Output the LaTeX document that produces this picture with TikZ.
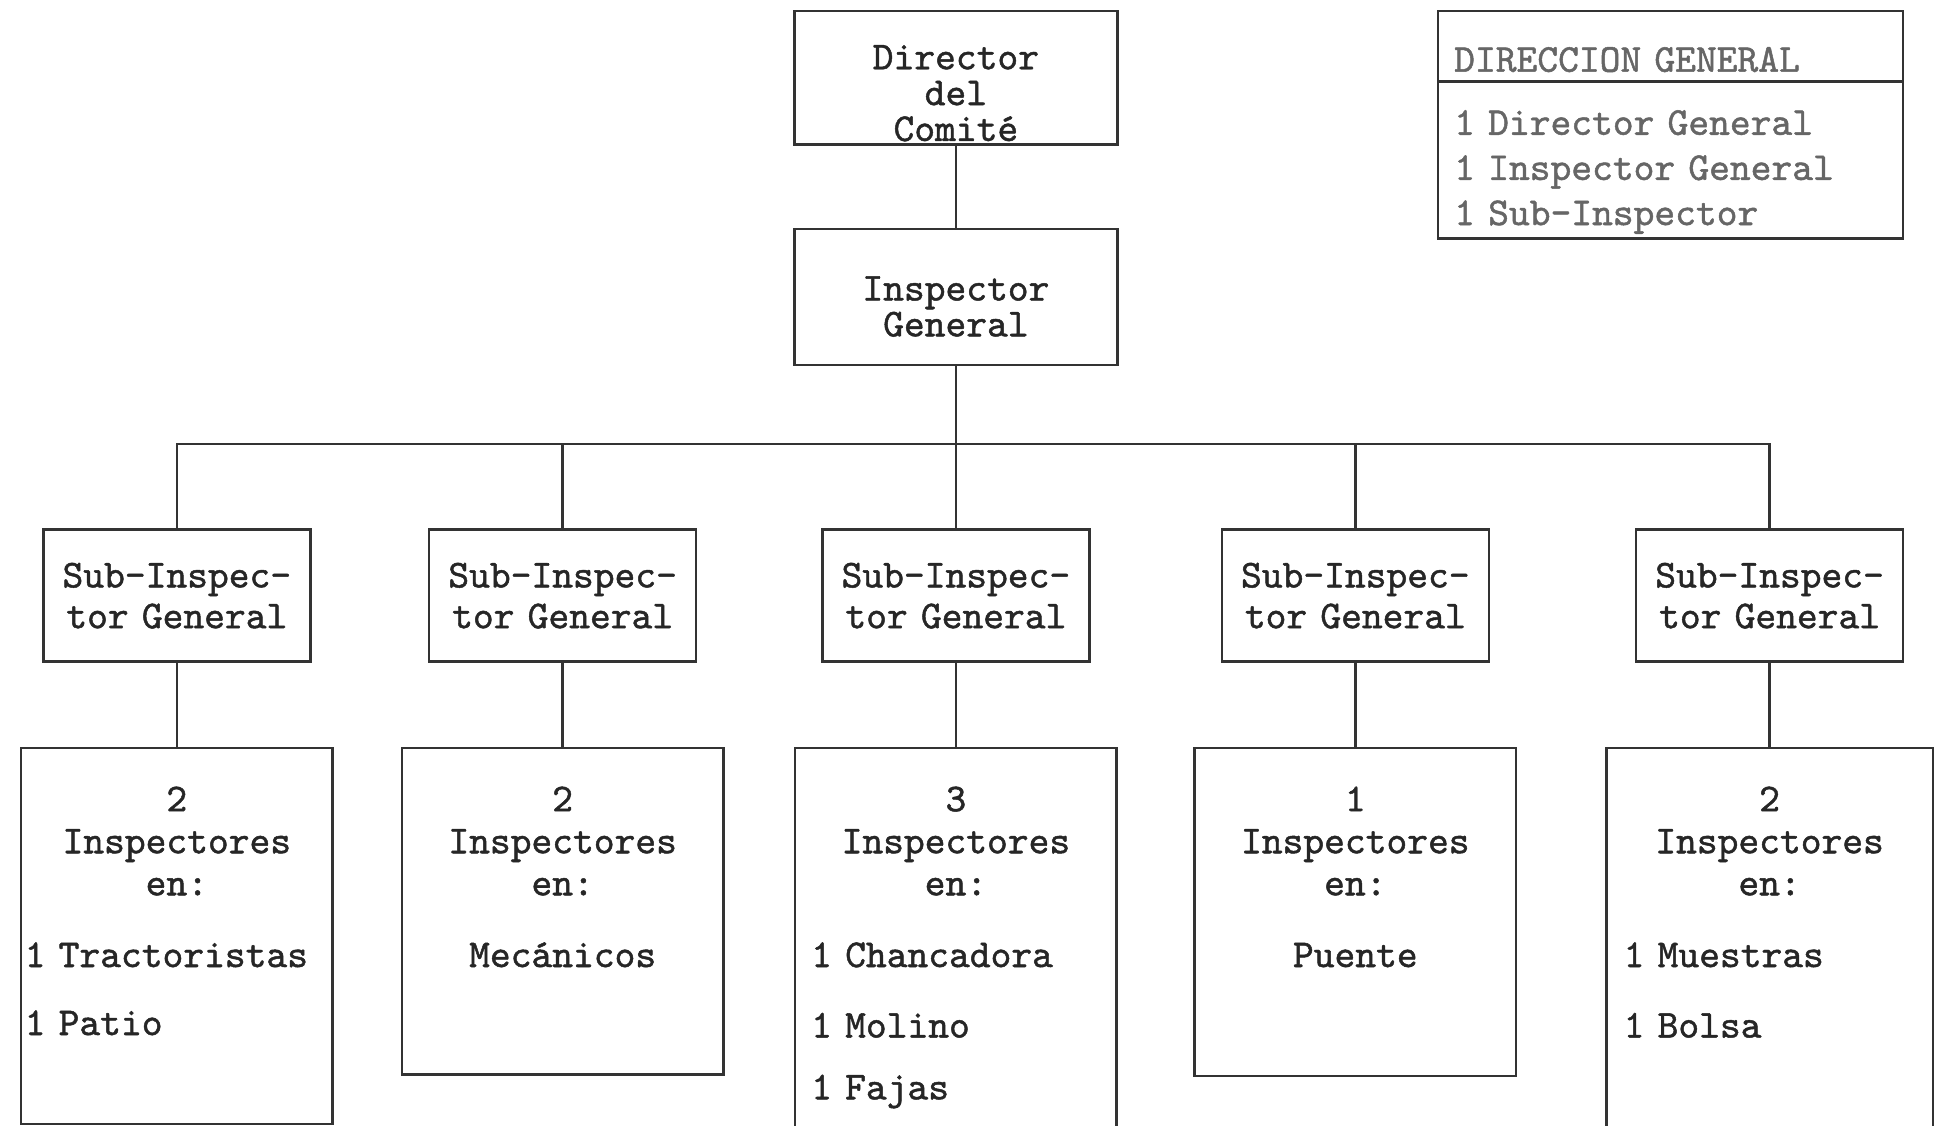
\documentclass[tikz,border=0pt]{standalone}
\usepackage{fontspec}
\usetikzlibrary{positioning}

\newfontfamily\maquina{lmmono10-regular.otf}[FakeBold=1.2]

\tikzset{
    caja/.style={draw=black!80, line width=1pt, rectangle, inner sep=0pt, text=black!85, align=center, font=\maquina\fontsize{16}{14.5}\selectfont},
    subcaja/.style={caja, text width=108pt, text height=23.5pt, text depth=30pt, font=\maquina\fontsize{16}{16.5}\selectfont},
    bajacaja/.style={caja, text width=#1, text height=25.5pt, font=\maquina\fontsize{16}{17}\selectfont},
    leyenda/.style={caja, align=left, text width=175pt, inner xsep=6.5pt, text=black!60},
    linea/.style={draw=black!80, line width=1pt},
}

\begin{document}
\begin{tikzpicture}[x=0.5pt, y=-0.5pt]
    \useasboundingbox (0,0) rectangle (1568,910);

    \node [caja, text width=130.5pt, text height=23.5pt, text depth=30.5pt, anchor=north] (dir) at (773,8) {Director\\del\\Comité}; % top box
    \node [caja, text width=130.5pt, text height=29pt, text depth=26pt, below=33pt of dir] (insp) {Inspector\\General}; % inspector general

    % legend box, top right
    \node [leyenda, text height=24.5pt, text depth=4pt, anchor=north west] (legt) at (1162,8) {DIRECCION GENERAL};
    \node [leyenda, text height=21.5pt, text depth=42pt, below=-1pt of legt, font=\maquina\fontsize{16}{18.25}\selectfont] (legb) {1 Director General\\1 Inspector General\\1 Sub-Inspector};

    % sub-inspectors row
    \node [subcaja, anchor=north] (sub1) at (143,427) {Sub-Inspec-\\tor General};
    \node [subcaja, anchor=north] (sub2) at (455,427) {Sub-Inspec-\\tor General};
    \node [subcaja, anchor=north] (sub3) at (773,427) {Sub-Inspec-\\tor General};
    \node [subcaja, anchor=north] (sub4) at (1096,427) {Sub-Inspec-\\tor General};
    \node [subcaja, anchor=north] (sub5) at (1431,427) {Sub-Inspec-\\tor General};

    % inspectors row
    \node [bajacaja=126pt, text depth=126.5pt, below=34pt of sub1] (low1) {2\\Inspectores\\en:\par\vspace{12pt}\raggedright\hspace*{1.5pt}1 Tractoristas\par\vspace{10.5pt}\hspace*{1.5pt}1 Patio\par};
    \node [bajacaja=130pt, text depth=106.5pt, below=34pt of sub2] (low2) {2\\Inspectores\\en:\\[12pt]Mecánicos};
    \node [bajacaja=130pt, text depth=128.5pt, below=34pt of sub3] (low3) {3\\Inspectores\\en:\par\vspace{12pt}\raggedright\hspace*{6.5pt}1 Chancadora\par\vspace{11.5pt}\hspace*{6.5pt}1 Molino\par\vspace{8pt}\hspace*{6.5pt}1 Fajas\par};
    \node [bajacaja=130pt, text depth=107pt, below=34pt of sub4] (low4) {1\\Inspectores\\en:\\[12pt]Puente};
    \node [bajacaja=132pt, text depth=136pt, below=34pt of sub5] (low5) {2\\Inspectores\\en:\par\vspace{12pt}\raggedright\hspace*{7pt}1 Muestras\par\vspace{11.5pt}\hspace*{7pt}1 Bolsa\par};

    \coordinate (bus) at (773,359); % horizontal bar

    \draw [linea] (dir) -- (insp);
    \draw [linea] (insp) -- (sub3);
    \foreach \n in {1,2,4,5}
        \draw [linea] (sub\n) |- (bus);
    \foreach \n in {1,...,5}
        \draw [linea] (sub\n) -- (low\n);
\end{tikzpicture}
\end{document}
